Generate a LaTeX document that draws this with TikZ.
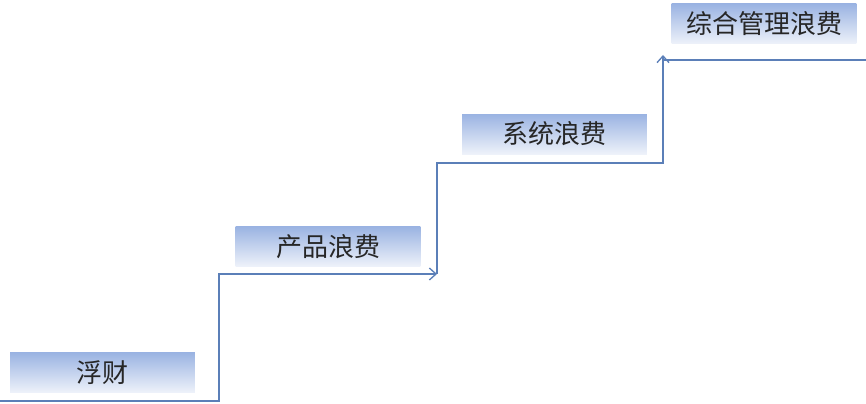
\documentclass[tikz,border=0pt]{standalone}
\usepackage{fontspec}
\newfontfamily\cjk{Noto Sans CJK SC}
\usetikzlibrary{arrows.meta}
\definecolor{stepblue}{HTML}{5B7FB8}
\definecolor{boxtop}{HTML}{9AB3E2}
\definecolor{boxbot}{HTML}{EEF2FA}
\begin{document}
\begin{tikzpicture}[
		x=0.75pt, y=-0.75pt,
		box/.style={rectangle, top color=boxtop, bottom color=boxbot, draw=none, minimum width=138.5pt, minimum height=30pt, inner sep=0pt, font=\cjk\fontsize{19.5}{22}\selectfont, text=black!85},
		stair/.style={draw=stepblue, line width=1pt, -{Straight Barb[length=5pt, width=9pt]}}
		]
		\useasboundingbox (0,0) rectangle (866,403);
		\node[box] (fucai) at (102.5,372.5) {浮财};
		\node[box] (chanpin) at (328,246.5) {产品浪费};
		\node[box] (xitong) at (554.5,134) {系统浪费};
		\node[box] (zonghe) at (764,24) {综合管理浪费};
		
		\coordinate (s0) at (0,401);
		\coordinate (s1) at (437,274);
		\coordinate (s2) at (663,55);
		\coordinate (s3) at (866,60);
		
		\draw[stair] (s0) -- (219,401) -- (219,274) -- (s1);
		\draw[stair] (s1) -- (437,163) -- (663,163) -- (s2);
		\draw[draw=stepblue, line width=1pt] (663,60) -- (s3);
	\end{tikzpicture}
\end{document}
